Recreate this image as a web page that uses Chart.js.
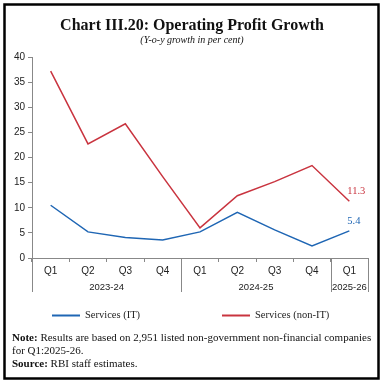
<!DOCTYPE html>
<html><head><meta charset="utf-8">
<script src="https://cdn.jsdelivr.net/npm/chart.js@4/dist/chart.umd.min.js"></script>
<style>html,body{margin:0;padding:0;background:#fff;}#wrap{position:relative;width:382px;height:383px;}canvas{display:block;}</style>
</head><body><div id="wrap"><canvas id="c" width="382" height="383"></canvas></div>
<script>
const quarters = ["Q1","Q2","Q3","Q4","Q1","Q2","Q3","Q4","Q1"];
const years = ["2023-24","2024-25","2025-26"];
const yearSpans = [4,4,1];
const servicesIT = [10.5,5.2,4.1,3.6,5.2,9.1,5.6,2.4,5.4];
const servicesNonIT = [37.2,22.7,26.7,16.2,6.0,12.4,15.2,18.4,11.3];
const seriesNames = ["Services (IT)","Services (non-IT)"];
const yTicks = [0,5,10,15,20,25,30,35,40];
const titleText = "Chart III.20: Operating Profit Growth";
const subtitleText = "(Y-o-y growth in per cent)";

const BLUE = "#1f66b4", RED = "#c9343f", AXIS = "#888";
const SANS = "'Liberation Sans', sans-serif";
const SERIF = "'Liberation Serif', serif";

const deco = {
  id: 'deco',
  afterDraw(chart) {
    const ctx = chart.ctx, ca = chart.chartArea;
    ctx.save();
    ctx.strokeStyle = "#000"; ctx.lineWidth = 2.5;
    ctx.strokeRect(4.5, 4.5, 374, 374);
    ctx.fillStyle = "#111"; ctx.textAlign = "center"; ctx.textBaseline = "alphabetic";
    ctx.font = "bold 16px " + SERIF;
    ctx.fillText(titleText, 192, 30);
    ctx.font = "italic 10px " + SERIF;
    ctx.fillText(subtitleText, 192, 43);
    const n = quarters.length, w = (ca.right - ca.left) / n;
    ctx.strokeStyle = AXIS; ctx.lineWidth = 1;
    let idx = 0;
    const bounds = [0];
    yearSpans.forEach(s => { idx += s; bounds.push(idx); });
    bounds.forEach(b => {
      const x = Math.round(ca.left + b * w) + 0.5;
      ctx.beginPath(); ctx.moveTo(x, ca.bottom); ctx.lineTo(x, ca.bottom + 34); ctx.stroke();
    });
    ctx.fillStyle = "#222"; ctx.font = "9.5px " + SANS; ctx.textBaseline = "middle";
    years.forEach((y, i) => {
      const cx = ca.left + (bounds[i] + bounds[i + 1]) / 2 * w;
      ctx.fillText(y, cx, ca.bottom + 29);
    });
    ctx.font = "10.5px " + SERIF; ctx.textAlign = "left";
    [[1, RED], [0, BLUE]].forEach(([di, col]) => {
      const pts = chart.getDatasetMeta(di).data;
      const p = pts[pts.length - 1];
      ctx.fillStyle = col;
      ctx.fillText(chart.data.datasets[di].data[pts.length - 1].toFixed(1), p.x - 2, p.y - 10);
    });
    ctx.lineWidth = 2;
    [[52, BLUE, seriesNames[0]], [222, RED, seriesNames[1]]].forEach(([x, col, t]) => {
      ctx.strokeStyle = col; ctx.beginPath(); ctx.moveTo(x, 315.5); ctx.lineTo(x + 28, 315.5); ctx.stroke();
      ctx.fillStyle = "#222"; ctx.font = "10.5px " + SERIF; ctx.textAlign = "left"; ctx.textBaseline = "middle";
      ctx.fillText(t, x + 33, 315);
    });
    ctx.textBaseline = "alphabetic"; ctx.fillStyle = "#111";
    const line = (parts, x, y) => {
      parts.forEach(([txt, bold]) => {
        ctx.font = (bold ? "bold " : "") + "11px " + SERIF;
        ctx.fillText(txt, x, y); x += ctx.measureText(txt).width;
      });
    };
    line([["Note:", true], [" Results are based on 2,951 listed non-government non-financial companies", false]], 12, 341);
    line([["for Q1:2025-26.", false]], 12, 354);
    line([["Source:", true], [" RBI staff estimates.", false]], 12, 367);
    ctx.restore();
  }
};

new Chart(document.getElementById('c'), {
  type: 'line',
  data: {
    labels: quarters,
    datasets: [
      { label: seriesNames[0], data: servicesIT, borderColor: BLUE, borderWidth: 1.5, pointRadius: 0, tension: 0, fill: false },
      { label: seriesNames[1], data: servicesNonIT, borderColor: RED, borderWidth: 1.5, pointRadius: 0, tension: 0, fill: false }
    ]
  },
  options: {
    responsive: false, animation: false, devicePixelRatio: 1,
    layout: { padding: { left: 0, right: 14, top: 57, bottom: 75 } },
    plugins: { legend: { display: false }, tooltip: { enabled: false }, title: { display: false } },
    scales: {
      x: {
        type: 'category', offset: true,
        grid: { offset: true, drawOnChartArea: false, drawTicks: true, tickLength: 4, color: AXIS },
        border: { display: true, color: AXIS, width: 1 },
        ticks: { color: "#222", font: { family: SANS, size: 10 }, padding: 3, maxRotation: 0, autoSkip: false },
        afterFit: s => { s.height = 50; }
      },
      y: {
        min: 0, max: 40,
        afterBuildTicks: s => { s.ticks = yTicks.map(v => ({ value: v })); },
        grid: { drawOnChartArea: false, drawTicks: true, tickLength: 4, color: AXIS },
        border: { display: true, color: AXIS, width: 1 },
        ticks: { color: "#222", font: { family: SANS, size: 10 }, padding: 3 },
        afterFit: s => { s.width = 32; }
      }
    }
  },
  plugins: [deco]
});
</script></body></html>
